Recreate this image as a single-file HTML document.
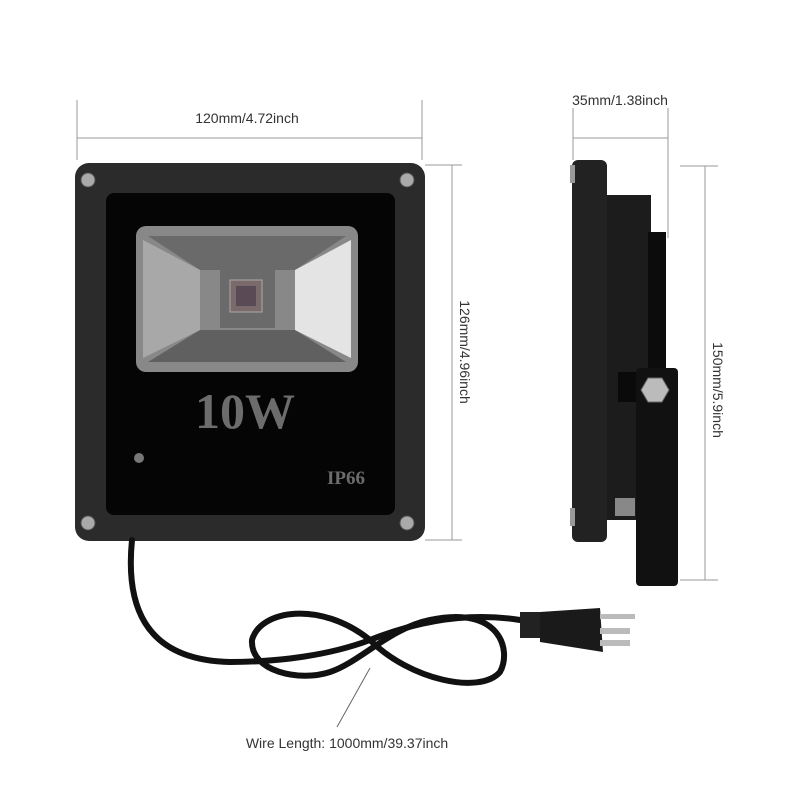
<!DOCTYPE html>
<html><head><meta charset="utf-8"><style>
html,body{margin:0;padding:0;background:#fff;}
svg{display:block;}
</style></head><body>
<svg width="800" height="800" viewBox="0 0 800 800" xmlns="http://www.w3.org/2000/svg">
<g stroke="#999" stroke-width="1" fill="none">
<line x1="77" y1="100" x2="77" y2="160"/><line x1="422" y1="100" x2="422" y2="160"/>
<line x1="77" y1="138" x2="422" y2="138"/>
<line x1="425" y1="165" x2="462" y2="165"/><line x1="425" y1="540" x2="462" y2="540"/>
<line x1="452" y1="165" x2="452" y2="540"/>
<line x1="573" y1="108" x2="573" y2="160"/><line x1="668" y1="108" x2="668" y2="238"/>
<line x1="573" y1="138" x2="668" y2="138"/>
<line x1="680" y1="166" x2="718" y2="166"/><line x1="680" y1="580" x2="718" y2="580"/>
<line x1="705" y1="166" x2="705" y2="580"/>
<line x1="370" y1="668" x2="337" y2="727" stroke="#666"/>
</g>
<g font-family="Liberation Sans, sans-serif" font-size="14" fill="#333" text-anchor="middle">
<text x="247" y="123">120mm/4.72inch</text>
<text x="620" y="105">35mm/1.38inch</text>
<text transform="translate(460,352) rotate(90)">126mm/4.96inch</text>
<text transform="translate(713,390) rotate(90)">150mm/5.9inch</text>
<text x="347" y="748">Wire Length: 1000mm/39.37inch</text>
</g>
<rect x="75" y="163" width="350" height="378" rx="14" fill="#2b2b2b"/>
<rect x="106" y="193" width="289" height="322" rx="8" fill="#050505"/>
<rect x="136" y="226" width="222" height="146" rx="10" fill="#888"/>
<polygon points="148,236 346,236 295,270 200,270" fill="#6a6a6a"/>
<polygon points="148,362 346,362 295,330 200,330" fill="#606060"/>
<polygon points="143,240 200,270 200,330 143,358" fill="#a8a8a8"/>
<polygon points="351,240 295,270 295,330 351,358" fill="#e4e4e4"/>
<rect x="220" y="270" width="55" height="58" fill="#6a6a6a"/>
<rect x="230" y="280" width="32" height="32" fill="#7a6a6a" stroke="#aaa"/>
<rect x="236" y="286" width="20" height="20" fill="#5a4a55"/>
<text x="245" y="428" font-family="Liberation Serif, serif" font-weight="bold" font-size="50" fill="#6c6c6c" text-anchor="middle">10W</text>
<text x="346" y="484" font-family="Liberation Serif, serif" font-weight="bold" font-size="19" fill="#6c6c6c" text-anchor="middle">IP66</text>
<circle cx="139" cy="458" r="5" fill="#777"/>
<g fill="#aaa" stroke="#555">
<circle cx="88" cy="180" r="7"/><circle cx="407" cy="180" r="7"/>
<circle cx="88" cy="523" r="7"/><circle cx="407" cy="523" r="7"/>
</g>
<rect x="605" y="195" width="46" height="325" fill="#1c1c1c"/>
<rect x="648" y="232" width="18" height="290" fill="#0c0c0c"/>
<rect x="572" y="160" width="35" height="382" rx="6" fill="#222"/>
<rect x="570" y="165" width="5" height="18" fill="#999"/>
<rect x="570" y="508" width="5" height="18" fill="#999"/>
<rect x="618" y="372" width="20" height="30" fill="#0a0a0a"/>
<rect x="615" y="498" width="20" height="18" fill="#888"/>
<rect x="636" y="368" width="42" height="218" rx="4" fill="#111"/>
<polygon points="648,378 662,378 669,390 662,402 648,402 641,390" fill="#bbb" stroke="#666"/>
<g fill="none" stroke="#111" stroke-width="6" stroke-linecap="round">
<path d="M132,540 C126,600 140,660 230,662 C280,662 330,655 370,640 C420,620 470,612 520,620"/>
<path d="M370,640 C320,600 260,610 252,640 C250,672 300,682 330,672 C360,662 390,628 430,620 C500,605 512,650 500,672 C480,695 410,680 370,640"/>
</g>
<rect x="520" y="612" width="20" height="26" fill="#222"/>
<polygon points="540,612 600,608 603,652 540,642" fill="#1a1a1a"/>
<g fill="#bbb"><rect x="600" y="614" width="35" height="5"/><rect x="600" y="628" width="30" height="6"/><rect x="600" y="640" width="30" height="6"/></g>
</svg>
</body></html>
